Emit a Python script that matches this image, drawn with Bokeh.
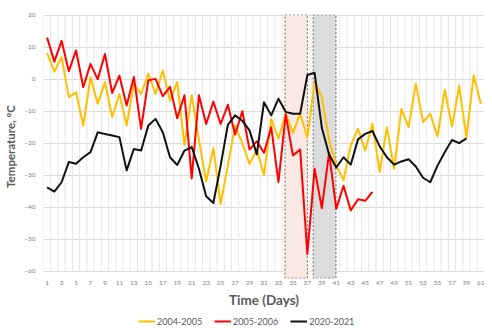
from bokeh.plotting import figure
from bokeh.models import FixedTicker, Range1d, Legend, LegendItem
from bokeh.layouts import column
from bokeh.embed import file_html
from bokeh.resources import INLINE

# ---- data ----
days = list(range(1, 62))
x_tick_labels = list(range(1, 62, 2))
y_ticks = [-60, -50, -40, -30, -20, -10, 0, 10, 20]

t_2004_2005 = [8.2, 2.4, 6.9, -5.6, -4.1, -14.5, 0.6, -7.7, -0.9, -11.9,
               -4.6, -14.5, -1.5, -4.6, 1.7, -4.6, 2.7, -6.7, -0.9, -20.5,
               -5.0, -19.0, -32.0, -21.5, -39.0, -27.0, -14.5, -20.0, -26.5, -22.0,
               -30.0, -12.4, -18.6, -10.8, -16.8, -10.8, -18.3, -0.8, -5.6, -19.0,
               -27.0, -31.6, -20.7, -15.5, -22.3, -13.9, -29.0, -15.0, -28.0, -9.3,
               -15.0, -1.4, -13.4, -10.8, -17.9, -3.3, -14.8, -2.0, -18.3, 1.2,
               -7.7]
t_2005_2006 = [13.0, 5.5, 12.0, 2.5, 9.0, -2.5, 4.8, 0.0, 7.9, -4.3,
               1.1, -8.2, 0.7, -15.5, -0.3, 0.1, -5.3, -2.4, -12.2, -5.0,
               -31.0, -5.0, -14.0, -7.0, -14.0, -8.0, -17.3, -10.0, -22.0, -19.4,
               -23.0, -15.0, -32.2, -11.0, -23.8, -22.0, -54.6, -28.0, -40.3, -23.0,
               -40.5, -33.3, -41.0, -37.5, -38.0, -35.2]
t_2020_2021 = [-33.8, -35.1, -32.2, -25.9, -26.4, -24.4, -22.8, -16.6, -17.1, -17.6,
               -18.1, -28.5, -21.8, -22.3, -14.5, -12.4, -16.6, -24.4, -26.8, -22.3,
               -21.2, -28.0, -36.6, -38.7, -27.0, -14.3, -11.3, -13.0, -16.0, -23.5,
               -7.2, -11.3, -6.1, -10.2, -10.8, -10.8, 1.3, 2.0, -15.2, -23.5,
               -27.6, -24.4, -26.7, -18.8, -17.1, -16.2, -21.0, -24.4, -26.7, -25.7,
               -25.0, -27.3, -30.8, -32.2, -27.0, -22.8, -19.0, -20.0, -18.5]

series_names = ["2004-2005", "2005-2006", "2020-2021"]
series_colors = ["#FFC000", "#FF0000", "#111111"]

# highlighted periods (day positions)
shade_left = [33.9, 37.8]
shade_right = [37.0, 40.95]
shade_colors = ["#FBE9E5", "#DCDCDC"]
shade_top = 20.15
shade_bottom = -62.2

FONT = "Lato"

# ---- main figure ----
p = figure(width=484, height=311, output_backend="svg", toolbar_location=None,
           x_range=Range1d(0.5, 61.5), y_range=Range1d(-62.28, 20.22),
           min_border_left=43, min_border_right=0, min_border_top=14,
           min_border_bottom=33)
p.outline_line_color = None
p.background_fill_color = "white"
p.border_fill_color = "white"

# grid
p.xgrid.visible = False
p.ygrid.ticker = FixedTicker(ticks=y_ticks)
p.ygrid.grid_line_color = "#D9D9D9"
p.ygrid.grid_line_width = 1

bounds = [d - 0.5 for d in days] + [days[-1] + 0.5]
p.segment(x0=bounds, y0=[y_ticks[0]] * len(bounds), x1=bounds,
          y1=[y_ticks[-1]] * len(bounds), line_color="#E6E6E6", line_width=1)

# shaded periods
p.quad(left=shade_left, right=shade_right, top=[shade_top] * 2,
       bottom=[shade_bottom] * 2, fill_color=shade_colors, fill_alpha=1.0,
       line_color="#666666", line_width=1, line_dash="2 2")

# series
series = [t_2004_2005, t_2005_2006, t_2020_2021]
for name, vals, col in zip(series_names, series, series_colors):
    p.line(days[:len(vals)], vals, line_color=col, line_width=2,
           line_join="round")

# axes
for ax in (p.xaxis[0], p.yaxis[0]):
    ax.axis_line_color = None
    ax.major_tick_line_color = None
    ax.minor_tick_line_color = None
    ax.major_tick_out = 0
    ax.major_tick_in = 0
    ax.minor_tick_out = 0
    ax.minor_tick_in = 0
    ax.major_label_text_font = FONT
    ax.major_label_text_font_size = "6.5px"
    ax.major_label_text_color = "#808080"
    ax.axis_label_text_font = FONT
    ax.axis_label_text_font_style = "bold"
    ax.axis_label_text_color = "#595959"

p.yaxis.ticker = FixedTicker(ticks=y_ticks)
p.yaxis.major_label_standoff = 8
p.yaxis.axis_label = "Temperature, °C"
p.yaxis.axis_label_text_font_size = "11.5px"
p.yaxis.axis_label_standoff = 4

p.xaxis.ticker = FixedTicker(ticks=x_tick_labels)
p.xaxis.major_label_standoff = 2
p.xaxis.axis_label = "Time (Days)"
p.xaxis.axis_label_text_font_size = "13.5px"
p.xaxis.axis_label_standoff = 4

# ---- legend strip below the chart ----
q = figure(width=484, height=16, output_backend="svg", toolbar_location=None,
           x_range=Range1d(0, 1), y_range=Range1d(0, 1),
           min_border=0, x_axis_type=None, y_axis_type=None)
q.outline_line_color = None
q.grid.visible = False
q.background_fill_color = "white"
q.border_fill_color = "white"
nan = float("nan")
keys = [q.line(x=[nan], y=[nan], line_color=c, line_width=2)
        for c in series_colors]
legend = Legend(items=[LegendItem(label=n, renderers=[r])
                       for n, r in zip(series_names, keys)],
                orientation="horizontal", location=(95, 0),
                glyph_width=17, glyph_height=12, label_height=12,
                label_width=20, label_standoff=2, spacing=12,
                padding=0, margin=0, border_line_alpha=0,
                background_fill_alpha=0,
                label_text_font=FONT, label_text_font_size="9px",
                label_text_color="#595959")
q.add_layout(legend, "center")

layout = column(p, q, spacing=0)
open("out.html", "w").write(file_html(layout, INLINE))
